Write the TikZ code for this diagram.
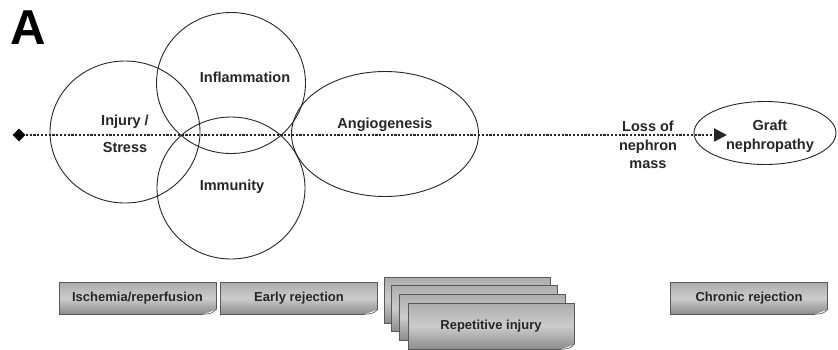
\documentclass[tikz,border=0pt]{standalone}
\usepackage{fontspec}
\setmainfont{Liberation Sans}
\usetikzlibrary{shapes.geometric,arrows.meta,calc}

% folded corner at the lower right of a stage box
\newcommand{\dogear}[1]{%
  \fill[white] ($(#1.south east)+(-15,0.8)$) -- ($(#1.south east)+(0.8,0.8)$) -- ($(#1.south east)+(0.8,-5)$) -- cycle;
  \draw[black!70, line width=0.6pt] ($(#1.south east)+(-15,0)$) .. controls ($(#1.south east)+(-5,-0.5)$) .. ($(#1.south east)+(0,-5)$);
}

\begin{document}
\begin{tikzpicture}[x=1pt, y=-1pt,
                bubble/.style={
                    draw=black!85, line width=0.9pt, ellipse, inner sep=0pt
                },
                lbl/.style={
                    font=\fontsize{14.5}{18.5}\selectfont\bfseries, align=center, text=black!85
                },
                stage/.style={
                    draw=black!65, line width=0.6pt, rectangle, inner sep=0pt,
                    top color=gray!65, bottom color=gray!90, middle color=gray!40,
                    minimum width=157pt, minimum height=32pt,
                    font=\fontsize{13}{15}\selectfont\bfseries, text=black!85
                },
                repeat/.style={
                    stage, minimum width=166pt, minimum height=46pt
                }
            ]
            \useasboundingbox (0,0) rectangle (838,349);

            \node[font=\fontsize{49}{49}\selectfont\bfseries, inner sep=0pt] (panel) at (28.5,27.5) {A};

            % bubbles
            \node[bubble, minimum width=150pt, minimum height=142pt] (injury) at (125,132) {};
            \node[bubble, minimum width=149pt, minimum height=141pt] (inflam) at (231,83) {};
            \node[bubble, minimum width=148pt, minimum height=142pt] (immun) at (231,188) {};
            \node[bubble, minimum width=187pt, minimum height=125pt] (angio) at (385,134) {};
            \node[bubble, minimum width=142pt, minimum height=63pt] (graft) at (765,133) {};

            \node[lbl] (injurytxt) at (125,134) {Injury /\\[9pt]Stress};
            \node[lbl] (inflamtxt) at (245,77) {Inflammation};
            \node[lbl] (immuntxt) at (232,187) {Immunity};
            \node[lbl] (angiotxt) at (385,125) {Angiogenesis};
            \node[lbl] (grafttxt) at (770,136) {Graft\\nephropathy};
            \node[lbl] (loss) at (648,145) {Loss of\\nephron\\mass};

            % time line
            \node[diamond, fill=black, aspect=1, minimum size=13pt, inner sep=0pt] (start) at (19,135) {};
            \coordinate (tip) at (727,135);
            \draw[line width=2.2pt, dash pattern=on 2.2pt off 1.6pt, black!85,
                  -{Triangle[length=13pt, width=13pt]}] (start.east) -- (tip);

            % stages
            \node[stage] (isch) at (137.5,298) {Ischemia/reperfusion};
            \node[stage] (early) at (299,298) {Early rejection};
            \node[stage] (chronic) at (749,298) {Chronic rejection};
            \dogear{isch}
            \dogear{early}
            \dogear{chronic}

            \node[repeat] (rep1) at (467,300) {};
            \dogear{rep1}
            \node[repeat] (rep2) at (474,308) {};
            \dogear{rep2}
            \node[repeat] (rep3) at (482,317) {};
            \dogear{rep3}
            \node[repeat] (rep4) at (491,326) {Repetitive injury};
            \dogear{rep4}
            \end{tikzpicture}
\end{document}
